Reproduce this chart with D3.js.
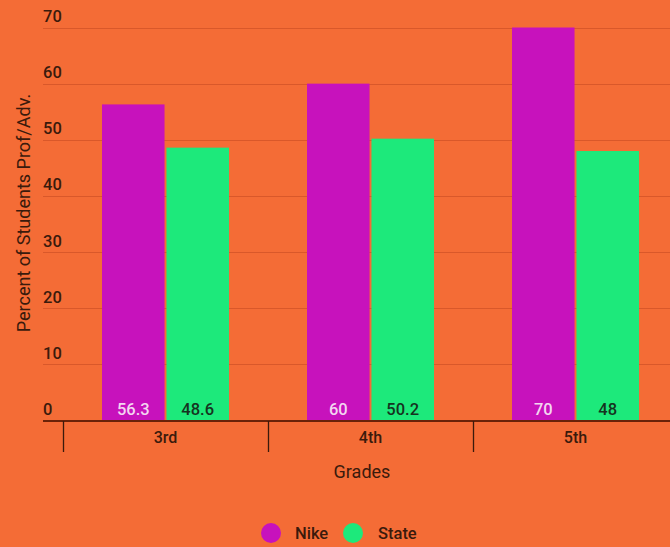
<!DOCTYPE html>
<html><head><meta charset="utf-8">
<script src="https://cdn.jsdelivr.net/npm/d3@7"></script>
<style>html,body{margin:0;padding:0;background:#F46C36;}svg{display:block;font-family:Roboto,"Noto Sans",sans-serif;}</style>
</head><body>
<svg id="c" width="670" height="547"></svg>
<script>
const categories = ["3rd", "4th", "5th"];
const seriesNames = ["Nike", "State"];
const nikeValues = [56.3, 60, 70];
const stateValues = [48.6, 50.2, 48];
const yTicks = [0, 10, 20, 30, 40, 50, 60, 70];
const colors = ["#C712BC", "#1DE97B"];

const svg = d3.select("#c");
const yScale = d3.scaleLinear().domain([0, 70]).range([420.5, 27.5]);
const x0 = d3.scaleBand().domain(categories).range([63, 678]).paddingInner(0).paddingOuter(0);
const x1 = d3.scaleBand().domain(seriesNames).range([39, 166]).paddingInner(0.03);

const ink = "#3a1a0c";
// gridlines
svg.append("g").selectAll("line").data(yTicks.filter(d => d > 0)).join("line")
  .attr("x1", 43).attr("x2", 670)
  .attr("y1", d => Math.round(yScale(d)) + 0.5).attr("y2", d => Math.round(yScale(d)) + 0.5)
  .attr("stroke", "#D9582A").attr("stroke-width", 1);
// tick labels
svg.append("g").selectAll("text").data(yTicks).join("text")
  .attr("x", 43).attr("y", d => yScale(d) - 5.5)
  .attr("fill", ink).attr("font-size", 16.5).attr("font-weight", 500)
  .text(d => d);

const data = categories.map((c, i) => ({cat: c, vals: [nikeValues[i], stateValues[i]]}));
const groups = svg.append("g").selectAll("g").data(data).join("g")
  .attr("transform", d => `translate(${x0(d.cat)},0)`);
groups.selectAll("rect").data(d => d.vals.map((v, j) => ({v, s: seriesNames[j], j}))).join("rect")
  .attr("x", d => x1(d.s)).attr("width", x1.bandwidth())
  .attr("y", d => yScale(d.v)).attr("height", d => yScale(0) - yScale(d.v))
  .attr("fill", d => colors[d.j]);
groups.selectAll("text").data(d => d.vals.map((v, j) => ({v, s: seriesNames[j], j}))).join("text")
  .attr("x", d => x1(d.s) + x1.bandwidth() / 2).attr("y", yScale(0) - 5.5)
  .attr("text-anchor", "middle").attr("font-size", 16.5).attr("font-weight", 500)
  .attr("fill", d => d.j === 0 ? "#F3D6F0" : "#16331f")
  .text(d => d.v);

// x axis
svg.append("line").attr("x1", 43).attr("x2", 670).attr("y1", 421).attr("y2", 421)
  .attr("stroke", "#6a2208").attr("stroke-width", 2);
const boundaries = [63, 268, 473, 678];
svg.append("g").selectAll("line").data(boundaries).join("line")
  .attr("x1", d => d + 0.5).attr("x2", d => d + 0.5).attr("y1", 421).attr("y2", 452)
  .attr("stroke", ink).attr("stroke-width", 1.3);
svg.append("g").selectAll("text").data(categories).join("text")
  .attr("x", d => x0(d) + x0.bandwidth() / 2).attr("y", 443)
  .attr("text-anchor", "middle").attr("font-size", 16).attr("font-weight", 500).attr("fill", ink)
  .text(d => d);

// axis titles
svg.append("text").attr("x", 362).attr("y", 478).attr("text-anchor", "middle")
  .attr("font-size", 18).attr("fill", ink).text("Grades");
svg.append("text").attr("transform", "translate(30,213) rotate(-90)").attr("text-anchor", "middle")
  .attr("font-size", 18).attr("fill", ink).text("Percent of Students Prof/Adv.");

// legend
const legend = [{n: "Nike", cx: 271, tx: 295}, {n: "State", cx: 353, tx: 378}];
legend.forEach((l, i) => {
  svg.append("circle").attr("cx", l.cx).attr("cy", 533).attr("r", 10).attr("fill", colors[i]);
  svg.append("text").attr("x", l.tx).attr("y", 539).attr("font-size", 16.5).attr("font-weight", 500)
    .attr("fill", ink).text(l.n);
});
</script>
</body></html>
